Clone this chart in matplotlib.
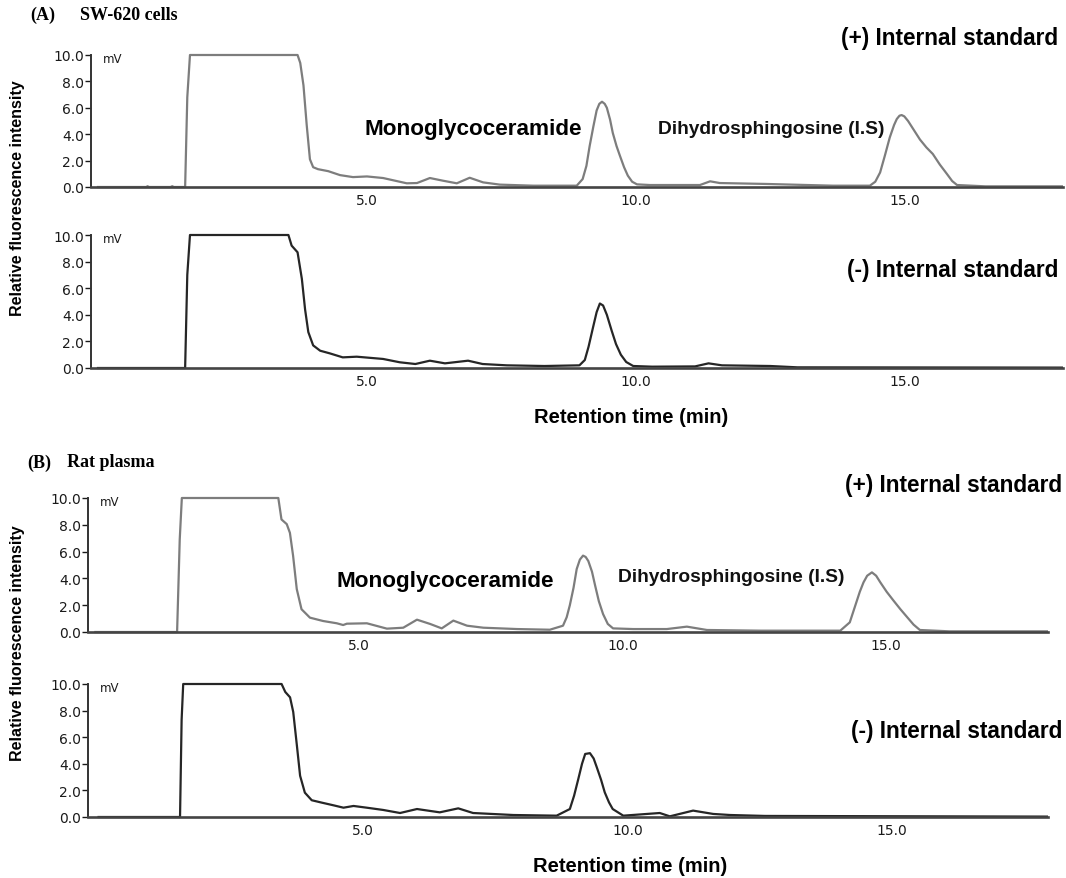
import matplotlib
matplotlib.use("Agg")
import matplotlib.pyplot as plt

W = 1066
H = 879

plt.rcParams["font.family"] = ["Liberation Sans", "DejaVu Sans"]

############################################################
# Data (retention time in min, signal in mV)
############################################################

# (A) SW-620 cells, (+) internal standard
a_pos_t = [0, 0.9, 0.92, 0.95, 1.35, 1.38, 1.41, 1.62, 1.66, 1.71, 3.71, 3.76,
           3.82, 3.88, 3.94, 4.0, 4.09, 4.28, 4.5, 4.74, 5.0, 5.3, 5.74, 5.93,
           6.17, 6.41, 6.67, 6.91, 7.16, 7.47, 8.09, 8.9, 9.01, 9.08, 9.14, 9.21,
           9.27, 9.32, 9.37, 9.42, 9.46, 9.52, 9.57, 9.64, 9.7, 9.78, 9.85, 9.93,
           10.02, 10.26, 11.19, 11.38, 11.56, 12.43, 13.66, 14.35, 14.45, 14.54,
           14.63, 14.72, 14.8, 14.85, 14.9, 14.94, 14.99, 15.06, 15.17, 15.28,
           15.4, 15.52, 15.65, 15.78, 15.88, 15.97, 16.5, 17.94]
a_pos_v = [0, 0, 0.06, 0, 0, 0.06, 0, 0, 6.8, 10, 10, 9.4,
           7.7, 4.7, 2.1, 1.5, 1.35, 1.2, 0.9, 0.75, 0.8, 0.68, 0.28, 0.3,
           0.68, 0.48, 0.28, 0.7, 0.35, 0.18, 0.1, 0.1, 0.6, 1.6, 3.1, 4.6,
           5.8, 6.3, 6.46, 6.3, 6.0, 5.1, 4.1, 3.1, 2.4, 1.5, 0.86, 0.4,
           0.2, 0.15, 0.15, 0.43, 0.3, 0.23, 0.1, 0.1, 0.4, 1.1,
           2.4, 3.76, 4.7, 5.15, 5.4, 5.45, 5.35, 5.0, 4.3, 3.6,
           3.0, 2.5, 1.7, 1.0, 0.45, 0.15, 0.05, 0.05]

# (A) SW-620 cells, (-) internal standard
a_neg_t = [0, 1.62, 1.66, 1.71, 3.54, 3.6, 3.71, 3.79, 3.85, 3.91, 4.0, 4.13,
           4.31, 4.55, 4.81, 5.3, 5.61, 5.9, 6.17, 6.45, 6.88, 7.15, 7.6, 8.3,
           8.95, 9.05, 9.12, 9.2, 9.27, 9.33, 9.39, 9.46, 9.55, 9.63, 9.72, 9.82,
           9.95, 10.3, 11.1, 11.35, 11.6, 12.5, 13.0, 17.94]
a_neg_v = [0, 0, 7, 10, 10, 9.2, 8.7, 6.7, 4.4, 2.7, 1.7, 1.3,
           1.1, 0.8, 0.85, 0.68, 0.43, 0.3, 0.55, 0.35, 0.55, 0.3, 0.2, 0.15,
           0.2, 0.6, 1.6, 3.0, 4.2, 4.85, 4.7, 4.0, 2.8, 1.8, 1.0, 0.45,
           0.15, 0.1, 0.12, 0.35, 0.2, 0.15, 0.05, 0.03]

# (B) Rat plasma, (+) internal standard
b_pos_t = [0, 1.55, 1.6, 1.64, 3.47, 3.53, 3.63, 3.69, 3.75, 3.82, 3.91, 4.07,
           4.32, 4.58, 4.7, 4.77, 5.15, 5.53, 5.84, 6.1, 6.35, 6.57, 6.79, 7.05,
           7.36, 8.0, 8.62, 8.87, 8.94, 9.0, 9.07, 9.13, 9.19, 9.25, 9.3, 9.35,
           9.42, 9.48, 9.55, 9.63, 9.72, 9.82, 10.2, 10.84, 11.22, 11.6, 12.61,
           14.13, 14.31, 14.4, 14.5, 14.57, 14.64, 14.73, 14.81, 14.89, 15.01,
           15.14, 15.27, 15.4, 15.52, 15.64, 16.2, 18.07]
b_pos_v = [0, 0, 6.9, 10, 10, 8.4, 8.05, 7.4, 5.7, 3.2, 1.7, 1.07,
           0.82, 0.65, 0.52, 0.62, 0.65, 0.25, 0.32, 0.92, 0.6, 0.27, 0.85, 0.47,
           0.32, 0.22, 0.17, 0.47, 1.1, 2.0, 3.3, 4.7, 5.4, 5.7, 5.6, 5.3,
           4.5, 3.46, 2.3, 1.34, 0.6, 0.27, 0.22, 0.22, 0.4, 0.15, 0.1,
           0.1, 0.72, 1.8, 3.0, 3.7, 4.2, 4.45, 4.2, 3.7, 3.0,
           2.34, 1.7, 1.1, 0.55, 0.15, 0.05, 0.05]

# (B) Rat plasma, (-) internal standard
b_neg_t = [0, 1.54, 1.57, 1.6, 3.46, 3.53, 3.62, 3.68, 3.75, 3.81, 3.9, 4.03,
           4.22, 4.44, 4.63, 4.82, 5.07, 5.38, 5.7, 6.02, 6.45, 6.8, 7.08, 7.84,
           8.66, 8.91, 8.99, 9.07, 9.14, 9.2, 9.29, 9.36, 9.42, 9.5, 9.57, 9.65,
           9.72, 9.92, 10.61, 10.8, 11.24, 11.62, 11.94, 12.6, 17.95]
b_neg_v = [0, 0, 7.3, 10, 10, 9.4, 9.0, 7.9, 5.35, 3.1, 1.83, 1.26,
           1.08, 0.88, 0.7, 0.83, 0.7, 0.53, 0.3, 0.6, 0.35, 0.65, 0.3, 0.15,
           0.1, 0.6, 1.6, 2.86, 4.0, 4.74, 4.8, 4.4, 3.73, 2.8, 1.85, 1.1,
           0.6, 0.1, 0.3, 0.05, 0.48, 0.23, 0.15, 0.08, 0.03]

y_ticks = [0, 2, 4, 6, 8, 10]
y_labels = ["0.0", "2.0", "4.0", "6.0", "8.0", "10.0"]
x_ticks = [5, 10, 15]
x_labels = ["5.0", "10.0", "15.0"]

GRAY = "#7d7d7d"
DARK = "#262626"

############################################################
# Helpers
############################################################

def fx(x):
    return x / W


def fy(y):
    return 1 - y / H


def panel(x0, x1, y_zero, y_ten, xlim, t, v, color):
    ymin, ymax = -0.3, 10.6
    unit = (y_zero - y_ten) / 10.0
    top = y_zero - ymax * unit
    bottom = y_zero - ymin * unit
    ax = fig.add_axes([fx(x0), fy(bottom), (x1 - x0) / W, (bottom - top) / H])
    ax.plot(t, v, color=color, lw=1.6, solid_joinstyle="round")
    ax.set_xlim(*xlim)
    ax.set_ylim(ymin, ymax)
    for s in ("top", "right"):
        ax.spines[s].set_visible(False)
    ax.spines["left"].set_bounds(0, 10)
    ax.spines["left"].set_color("#333333")
    ax.spines["left"].set_linewidth(1.4)
    ax.spines["bottom"].set_position(("data", 0))
    ax.spines["bottom"].set_color("#444444")
    ax.spines["bottom"].set_linewidth(1.9)
    ax.set_yticks(y_ticks)
    ax.set_yticklabels(y_labels)
    ax.set_xticks(x_ticks)
    ax.set_xticklabels(x_labels)
    ax.tick_params(axis="y", length=4, width=1, pad=1, labelsize=10,
                   colors="#1a1a1a")
    ax.tick_params(axis="x", length=0, pad=4, labelsize=10, colors="#1a1a1a")
    for lab in ax.get_xticklabels() + ax.get_yticklabels():
        lab.set_fontfamily("DejaVu Sans")
    ax.patch.set_alpha(0)
    ax.text(0.012, 9.75, "mV", fontsize=8.5, fontfamily="DejaVu Sans",
            transform=ax.get_yaxis_transform(), va="center", color="#1a1a1a")
    return ax


############################################################
# Figure
############################################################

fig = plt.figure(figsize=(W / 100, H / 100), dpi=100)

panel(91, 1063, 188, 56, (-0.13, 17.94), a_pos_t, a_pos_v, GRAY)
panel(91, 1063, 369, 236, (-0.13, 17.94), a_neg_t, a_neg_v, DARK)
panel(88, 1048, 633, 499, (-0.14, 18.07), b_pos_t, b_pos_v, GRAY)
panel(88, 1048, 818, 685, (-0.2, 17.95), b_neg_t, b_neg_v, DARK)

############################################################
# Labels
############################################################

serif = ["Liberation Serif", "DejaVu Serif"]
fig.text(fx(30), fy(15), "(A)", fontsize=13, fontweight="bold",
         fontfamily=serif, va="center")
fig.text(fx(80), fy(15), "SW-620 cells", fontsize=13, fontweight="bold",
         fontfamily=serif, va="center")
fig.text(fx(27), fy(463), "(B)", fontsize=13, fontweight="bold",
         fontfamily=serif, va="center")
fig.text(fx(67), fy(463), "Rat plasma", fontsize=13, fontweight="bold",
         fontfamily=serif, va="center")

for y, s in [(38, "(+) Internal standard"), (270, "(-) Internal standard")]:
    fig.text(fx(1058), fy(y), s, fontsize=16.3, fontweight="bold",
             ha="right", va="center")
for y, s in [(486, "(+) Internal standard"), (732, "(-) Internal standard")]:
    fig.text(fx(1062), fy(y), s, fontsize=16.3, fontweight="bold",
             ha="right", va="center")

fig.text(fx(364), fy(130), "Monoglycoceramide", fontsize=16.2,
         fontweight="bold", va="center")
fig.text(fx(658), fy(130), "Dihydrosphingosine (I.S)", fontsize=13.8,
         fontweight="bold", va="center", color="#111111")
fig.text(fx(337), fy(582), "Monoglycoceramide", fontsize=16.2,
         fontweight="bold", va="center")
fig.text(fx(618), fy(578), "Dihydrosphingosine (I.S)", fontsize=13.8,
         fontweight="bold", va="center", color="#111111")

fig.text(fx(18), fy(198), "Relative fluorescence intensity", fontsize=11.5,
         fontweight="bold", rotation=90, ha="center", va="center")
fig.text(fx(18), fy(643), "Relative fluorescence intensity", fontsize=11.5,
         fontweight="bold", rotation=90, ha="center", va="center")

fig.text(fx(631), fy(418), "Retention time (min)", fontsize=14.5,
         fontweight="bold", ha="center", va="center")
fig.text(fx(630), fy(867), "Retention time (min)", fontsize=14.5,
         fontweight="bold", ha="center", va="center")

fig.savefig("out.png", dpi=100)
